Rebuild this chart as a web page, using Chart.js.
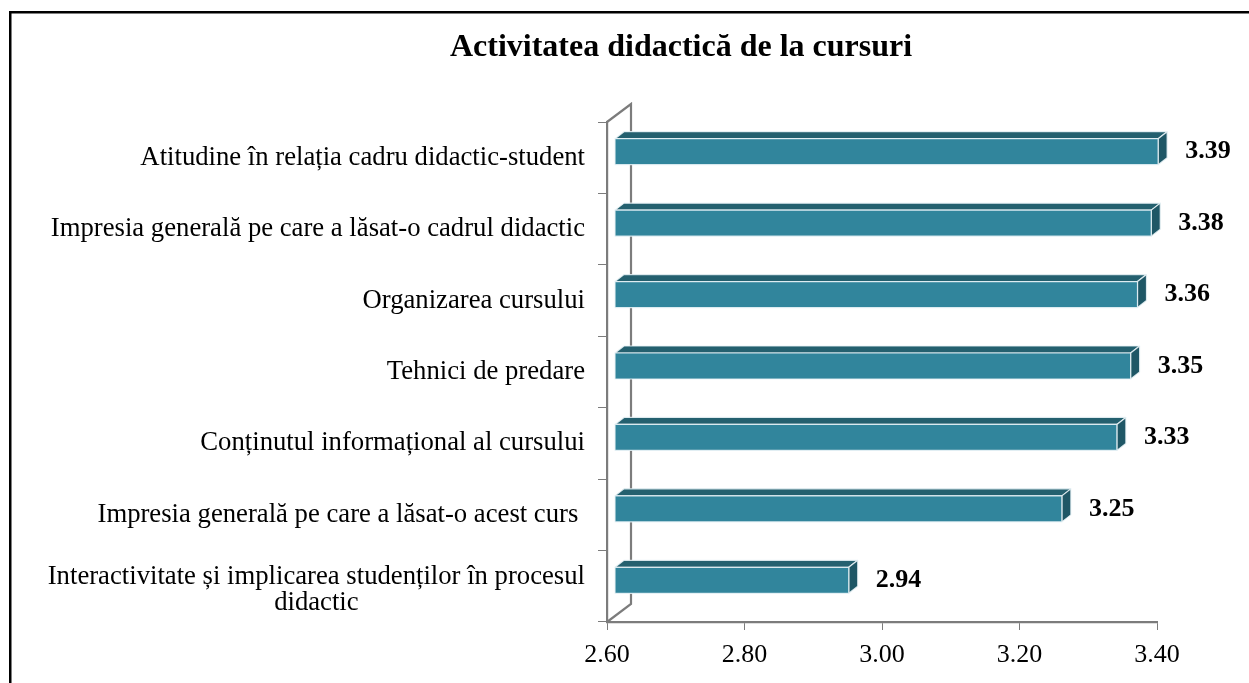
<!DOCTYPE html>
<html>
<head>
<meta charset="utf-8">
<script src="https://cdn.jsdelivr.net/npm/chart.js@4.4.1/dist/chart.umd.min.js"></script>
<style>
  html, body { margin: 0; padding: 0; background: #fff; }
  canvas { display: block; }
</style>
</head>
<body>
<canvas id="chart" width="1249" height="683"></canvas>
<script>
// ---- data ----
const chartTitle = 'Activitatea didactică de la cursuri';
const categories = [
  'Atitudine în relația cadru didactic-student',
  'Impresia generală pe care a lăsat-o cadrul didactic',
  'Organizarea cursului',
  'Tehnici de predare',
  'Conținutul informațional al cursului',
  'Impresia generală pe care a lăsat-o acest curs ',
  ['Interactivitate și implicarea studenților în procesul', 'didactic']
];
const scores = [3.39, 3.38, 3.36, 3.35, 3.33, 3.25, 2.94];
const axisMin = 2.6;
const axisMax = 3.4;
const axisStep = 0.2;

// ---- look ----
const SERIF = '"Liberation Serif", "Times New Roman", serif';
const FACE_FRONT = '#31859C';
const FACE_TOP = '#24606F';
const FACE_SIDE = '#1F5766';
const EDGE = 'rgba(235,245,248,0.85)';
const WALL = '#7c7c7c';

// oblique projection of the depth axis
const WALL_DX = 24, WALL_DY = -18;      // full floor/wall depth
const BAR_SHIFT_X = 8, BAR_SHIFT_Y = -6; // bar front face sits one third deep
const BAR_DX = 9, BAR_DY = -7;          // bar depth

Chart.defaults.font.family = SERIF;
Chart.defaults.color = '#000';

const threeD = {
  id: 'threeD',
  beforeDraw(chart) {
    const ctx = chart.ctx;
    ctx.save();
    ctx.fillStyle = '#fff';
    ctx.fillRect(0, 0, chart.width, chart.height);
    // outer frame
    ctx.strokeStyle = '#000';
    ctx.lineWidth = 2.5;
    ctx.strokeRect(10.25, 12.25, chart.width + 20, chart.height + 20);
    ctx.restore();
  },
  beforeDatasetsDraw(chart) {
    // back wall outline behind the bars
    const { left, top, bottom } = chart.chartArea;
    const ctx = chart.ctx;
    ctx.save();
    ctx.strokeStyle = WALL;
    ctx.lineWidth = 2.2;
    ctx.beginPath();
    ctx.moveTo(left, top);
    ctx.lineTo(left + WALL_DX, top + WALL_DY);
    ctx.lineTo(left + WALL_DX, bottom + WALL_DY);
    ctx.lineTo(left, bottom);
    ctx.stroke();
    ctx.restore();
  },
  afterDatasetsDraw(chart) {
    const ctx = chart.ctx;
    const meta = chart.getDatasetMeta(0);
    const xs = chart.scales.x;
    const basePx = xs.getPixelForValue(axisMin);
    ctx.save();
    meta.data.forEach((el, i) => {
      const p = el.getProps(['x', 'y', 'height'], true);
      const l = basePx + BAR_SHIFT_X;
      const r = p.x + BAR_SHIFT_X;
      const t = p.y + BAR_SHIFT_Y - p.height / 2;
      const b = t + p.height;

      ctx.lineWidth = 1.2;
      ctx.strokeStyle = EDGE;
      ctx.lineJoin = 'round';

      // top face
      ctx.beginPath();
      ctx.moveTo(l, t);
      ctx.lineTo(l + BAR_DX, t + BAR_DY);
      ctx.lineTo(r + BAR_DX, t + BAR_DY);
      ctx.lineTo(r, t);
      ctx.closePath();
      ctx.fillStyle = FACE_TOP;
      ctx.fill();
      ctx.stroke();

      // side face
      ctx.beginPath();
      ctx.moveTo(r, t);
      ctx.lineTo(r + BAR_DX, t + BAR_DY);
      ctx.lineTo(r + BAR_DX, b + BAR_DY);
      ctx.lineTo(r, b);
      ctx.closePath();
      ctx.fillStyle = FACE_SIDE;
      ctx.fill();
      ctx.stroke();

      // front face
      ctx.fillStyle = FACE_FRONT;
      ctx.fillRect(l, t, r - l, b - t);
      ctx.strokeRect(l, t, r - l, b - t);

      // value label
      ctx.fillStyle = '#000';
      ctx.font = 'bold 26px ' + SERIF;
      ctx.textAlign = 'left';
      ctx.textBaseline = 'middle';
      ctx.fillText(scores[i].toFixed(2), xs.getPixelForValue(scores[i]) + BAR_SHIFT_X + BAR_DX + 18, (t + b) / 2);
    });
    ctx.restore();
  },
  afterDraw(chart) {
    // category labels: right-aligned block, wrapped lines centred inside it
    const ctx = chart.ctx;
    const ys = chart.scales.y;
    const rightEdge = chart.chartArea.left - 22;
    const lineH = 26;
    ctx.save();
    ctx.font = '26.7px ' + SERIF;
    ctx.fillStyle = '#000';
    ctx.textBaseline = 'middle';
    categories.forEach((lab, i) => {
      const y = ys.getPixelForValue(i);
      const lines = Array.isArray(lab) ? lab : [lab];
      if (lines.length === 1) {
        ctx.textAlign = 'right';
        ctx.fillText(lines[0], rightEdge, y);
      } else {
        const widest = Math.max(...lines.map(s => ctx.measureText(s).width));
        const cx = rightEdge - widest / 2;
        const y0 = y + 4 - (lines.length - 1) * lineH / 2;
        ctx.textAlign = 'center';
        lines.forEach((s, k) => ctx.fillText(s, cx, y0 + k * lineH));
      }
    });
    ctx.restore();
  }
};

new Chart(document.getElementById('chart'), {
  type: 'bar',
  data: {
    labels: categories,
    datasets: [{
      data: scores,
      base: axisMin,
      backgroundColor: 'rgba(0,0,0,0)',
      borderWidth: 0,
      categoryPercentage: 1,
      barPercentage: 0.364
    }]
  },
  options: {
    indexAxis: 'y',
    responsive: false,
    animation: false,
    devicePixelRatio: 1,
    layout: { padding: { left: 205, right: 92, top: 0, bottom: 0 } },
    plugins: {
      legend: { display: false },
      tooltip: { enabled: false },
      title: {
        display: true,
        text: chartTitle,
        color: '#000',
        font: { size: 32, weight: 'bold', family: SERIF },
        padding: { top: 29, bottom: 54.6 }
      }
    },
    scales: {
      x: {
        min: axisMin,
        max: axisMax,
        ticks: {
          stepSize: axisStep,
          callback: v => Number(v).toFixed(2),
          font: { size: 26, family: SERIF },
          color: '#000',
          padding: 10,
          maxRotation: 0
        },
        grid: { drawOnChartArea: false, drawTicks: true, tickLength: 8, color: WALL, lineWidth: 1 },
        border: { display: true, color: WALL, width: 2.2 },
        afterFit: s => { s.height = 61; }
      },
      y: {
        ticks: { display: false },
        grid: { drawOnChartArea: false, offset: true, drawTicks: true, tickLength: 9, color: WALL, lineWidth: 1 },
        border: { display: true, color: WALL, width: 2.2 },
        afterFit: s => { s.width = 402; }
      }
    }
  },
  plugins: [threeD]
});
</script>
</body>
</html>
